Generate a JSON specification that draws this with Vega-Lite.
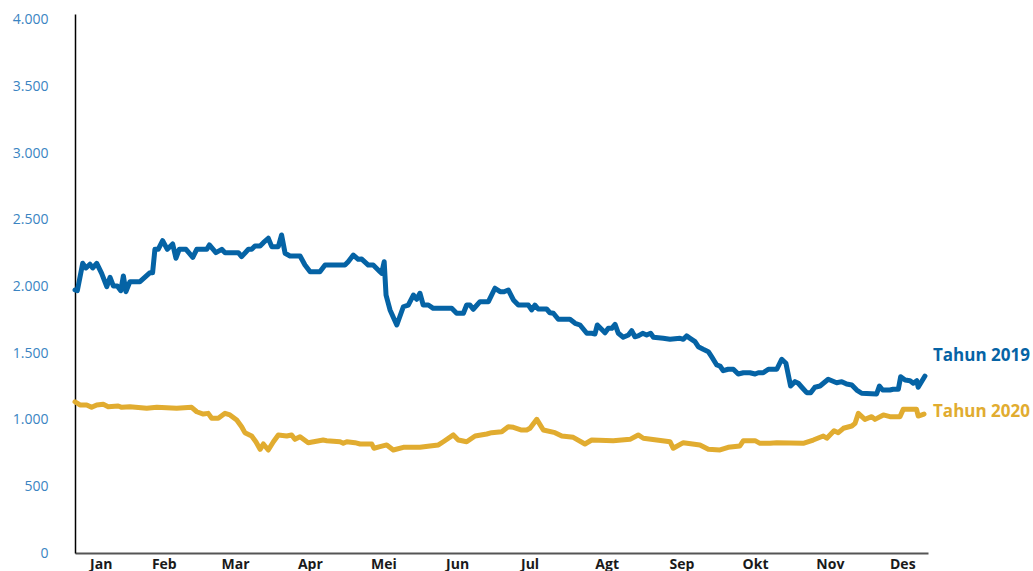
{
  "$schema": "https://vega.github.io/schema/vega-lite/v6.json",
  "width": 853,
  "height": 539,
  "autosize": "none",
  "padding": {"left": 75, "top": 14, "right": 105, "bottom": 18},
  "background": "white",
  "config": {"view": {"stroke": null}, "font": "Open Sans"},
  "data": {"values": [
    {"seri":"Tahun 2019","hari":0,"nilai":1974},
    {"seri":"Tahun 2019","hari":1,"nilai":1969},
    {"seri":"Tahun 2019","hari":3.3,"nilai":2174},
    {"seri":"Tahun 2019","hari":4.7,"nilai":2139},
    {"seri":"Tahun 2019","hari":6.4,"nilai":2167},
    {"seri":"Tahun 2019","hari":7.6,"nilai":2139},
    {"seri":"Tahun 2019","hari":9.3,"nilai":2174},
    {"seri":"Tahun 2019","hari":11.4,"nilai":2099},
    {"seri":"Tahun 2019","hari":13.6,"nilai":1999},
    {"seri":"Tahun 2019","hari":15,"nilai":2069},
    {"seri":"Tahun 2019","hari":16.4,"nilai":2004},
    {"seri":"Tahun 2019","hari":18.1,"nilai":2004},
    {"seri":"Tahun 2019","hari":19.6,"nilai":1969},
    {"seri":"Tahun 2019","hari":20.7,"nilai":2079},
    {"seri":"Tahun 2019","hari":21.8,"nilai":1961},
    {"seri":"Tahun 2019","hari":23.5,"nilai":2036},
    {"seri":"Tahun 2019","hari":27.8,"nilai":2036},
    {"seri":"Tahun 2019","hari":32.1,"nilai":2104},
    {"seri":"Tahun 2019","hari":33.2,"nilai":2104},
    {"seri":"Tahun 2019","hari":34.2,"nilai":2279},
    {"seri":"Tahun 2019","hari":35.6,"nilai":2279},
    {"seri":"Tahun 2019","hari":37.5,"nilai":2344},
    {"seri":"Tahun 2019","hari":39.5,"nilai":2279},
    {"seri":"Tahun 2019","hari":41.8,"nilai":2319},
    {"seri":"Tahun 2019","hari":43.2,"nilai":2212},
    {"seri":"Tahun 2019","hari":44.6,"nilai":2279},
    {"seri":"Tahun 2019","hari":47.5,"nilai":2279},
    {"seri":"Tahun 2019","hari":50.4,"nilai":2219},
    {"seri":"Tahun 2019","hari":52.1,"nilai":2279},
    {"seri":"Tahun 2019","hari":56.4,"nilai":2279},
    {"seri":"Tahun 2019","hari":57.5,"nilai":2312},
    {"seri":"Tahun 2019","hari":60.3,"nilai":2254},
    {"seri":"Tahun 2019","hari":62.8,"nilai":2279},
    {"seri":"Tahun 2019","hari":64.2,"nilai":2254},
    {"seri":"Tahun 2019","hari":69.9,"nilai":2254},
    {"seri":"Tahun 2019","hari":71.3,"nilai":2224},
    {"seri":"Tahun 2019","hari":74.2,"nilai":2279},
    {"seri":"Tahun 2019","hari":75.6,"nilai":2279},
    {"seri":"Tahun 2019","hari":77,"nilai":2304},
    {"seri":"Tahun 2019","hari":79.2,"nilai":2304},
    {"seri":"Tahun 2019","hari":80.6,"nilai":2329},
    {"seri":"Tahun 2019","hari":82.7,"nilai":2362},
    {"seri":"Tahun 2019","hari":84.2,"nilai":2299},
    {"seri":"Tahun 2019","hari":87,"nilai":2299},
    {"seri":"Tahun 2019","hari":88.4,"nilai":2387},
    {"seri":"Tahun 2019","hari":89.9,"nilai":2249},
    {"seri":"Tahun 2019","hari":92,"nilai":2229},
    {"seri":"Tahun 2019","hari":96.3,"nilai":2229},
    {"seri":"Tahun 2019","hari":98.4,"nilai":2161},
    {"seri":"Tahun 2019","hari":100.6,"nilai":2111},
    {"seri":"Tahun 2019","hari":104.8,"nilai":2111},
    {"seri":"Tahun 2019","hari":107,"nilai":2161},
    {"seri":"Tahun 2019","hari":115.5,"nilai":2161},
    {"seri":"Tahun 2019","hari":116.9,"nilai":2186},
    {"seri":"Tahun 2019","hari":119.1,"nilai":2236},
    {"seri":"Tahun 2019","hari":121.2,"nilai":2204},
    {"seri":"Tahun 2019","hari":122.7,"nilai":2206},
    {"seri":"Tahun 2019","hari":125.5,"nilai":2161},
    {"seri":"Tahun 2019","hari":127.6,"nilai":2161},
    {"seri":"Tahun 2019","hari":130.5,"nilai":2111},
    {"seri":"Tahun 2019","hari":131.2,"nilai":2099},
    {"seri":"Tahun 2019","hari":132.3,"nilai":2186},
    {"seri":"Tahun 2019","hari":133.1,"nilai":1936},
    {"seri":"Tahun 2019","hari":134.8,"nilai":1824},
    {"seri":"Tahun 2019","hari":137.7,"nilai":1711},
    {"seri":"Tahun 2019","hari":140.5,"nilai":1848},
    {"seri":"Tahun 2019","hari":142.6,"nilai":1861},
    {"seri":"Tahun 2019","hari":144.8,"nilai":1936},
    {"seri":"Tahun 2019","hari":146.2,"nilai":1904},
    {"seri":"Tahun 2019","hari":147.6,"nilai":1949},
    {"seri":"Tahun 2019","hari":149,"nilai":1861},
    {"seri":"Tahun 2019","hari":151.2,"nilai":1861},
    {"seri":"Tahun 2019","hari":153.3,"nilai":1836},
    {"seri":"Tahun 2019","hari":161.2,"nilai":1836},
    {"seri":"Tahun 2019","hari":163.3,"nilai":1799},
    {"seri":"Tahun 2019","hari":166.2,"nilai":1799},
    {"seri":"Tahun 2019","hari":167.6,"nilai":1861},
    {"seri":"Tahun 2019","hari":169,"nilai":1861},
    {"seri":"Tahun 2019","hari":170.4,"nilai":1829},
    {"seri":"Tahun 2019","hari":173.3,"nilai":1886},
    {"seri":"Tahun 2019","hari":176.9,"nilai":1886},
    {"seri":"Tahun 2019","hari":179.7,"nilai":1987},
    {"seri":"Tahun 2019","hari":181.9,"nilai":1961},
    {"seri":"Tahun 2019","hari":183.6,"nilai":1961},
    {"seri":"Tahun 2019","hari":185.4,"nilai":1974},
    {"seri":"Tahun 2019","hari":187.6,"nilai":1899},
    {"seri":"Tahun 2019","hari":189.7,"nilai":1861},
    {"seri":"Tahun 2019","hari":194,"nilai":1861},
    {"seri":"Tahun 2019","hari":195.4,"nilai":1824},
    {"seri":"Tahun 2019","hari":196.8,"nilai":1861},
    {"seri":"Tahun 2019","hari":198.2,"nilai":1831},
    {"seri":"Tahun 2019","hari":201.8,"nilai":1831},
    {"seri":"Tahun 2019","hari":203.2,"nilai":1803},
    {"seri":"Tahun 2019","hari":204.7,"nilai":1799},
    {"seri":"Tahun 2019","hari":206.8,"nilai":1754},
    {"seri":"Tahun 2019","hari":211.8,"nilai":1754},
    {"seri":"Tahun 2019","hari":214,"nilai":1724},
    {"seri":"Tahun 2019","hari":216.1,"nilai":1711},
    {"seri":"Tahun 2019","hari":219,"nilai":1649},
    {"seri":"Tahun 2019","hari":221.1,"nilai":1649},
    {"seri":"Tahun 2019","hari":222.5,"nilai":1644},
    {"seri":"Tahun 2019","hari":223.5,"nilai":1711},
    {"seri":"Tahun 2019","hari":226.8,"nilai":1653},
    {"seri":"Tahun 2019","hari":228.2,"nilai":1686},
    {"seri":"Tahun 2019","hari":229.7,"nilai":1686},
    {"seri":"Tahun 2019","hari":231.1,"nilai":1716},
    {"seri":"Tahun 2019","hari":232.5,"nilai":1649},
    {"seri":"Tahun 2019","hari":234.6,"nilai":1619},
    {"seri":"Tahun 2019","hari":236.8,"nilai":1636},
    {"seri":"Tahun 2019","hari":238.2,"nilai":1668},
    {"seri":"Tahun 2019","hari":239.6,"nilai":1623},
    {"seri":"Tahun 2019","hari":241,"nilai":1629},
    {"seri":"Tahun 2019","hari":242.9,"nilai":1649},
    {"seri":"Tahun 2019","hari":244.6,"nilai":1636},
    {"seri":"Tahun 2019","hari":246.3,"nilai":1649},
    {"seri":"Tahun 2019","hari":247.5,"nilai":1619},
    {"seri":"Tahun 2019","hari":251.7,"nilai":1611},
    {"seri":"Tahun 2019","hari":254.6,"nilai":1604},
    {"seri":"Tahun 2019","hari":258.9,"nilai":1611},
    {"seri":"Tahun 2019","hari":260.3,"nilai":1604},
    {"seri":"Tahun 2019","hari":261.7,"nilai":1629},
    {"seri":"Tahun 2019","hari":263.2,"nilai":1611},
    {"seri":"Tahun 2019","hari":265.3,"nilai":1586},
    {"seri":"Tahun 2019","hari":266.7,"nilai":1548},
    {"seri":"Tahun 2019","hari":268.8,"nilai":1529},
    {"seri":"Tahun 2019","hari":271,"nilai":1511},
    {"seri":"Tahun 2019","hari":272.4,"nilai":1473},
    {"seri":"Tahun 2019","hari":274.6,"nilai":1411},
    {"seri":"Tahun 2019","hari":276,"nilai":1403},
    {"seri":"Tahun 2019","hari":277.4,"nilai":1368},
    {"seri":"Tahun 2019","hari":279.5,"nilai":1379},
    {"seri":"Tahun 2019","hari":281.7,"nilai":1379},
    {"seri":"Tahun 2019","hari":283.8,"nilai":1343},
    {"seri":"Tahun 2019","hari":286,"nilai":1353},
    {"seri":"Tahun 2019","hari":288.8,"nilai":1353},
    {"seri":"Tahun 2019","hari":291,"nilai":1343},
    {"seri":"Tahun 2019","hari":292.4,"nilai":1353},
    {"seri":"Tahun 2019","hari":294.5,"nilai":1353},
    {"seri":"Tahun 2019","hari":296.7,"nilai":1379},
    {"seri":"Tahun 2019","hari":300.3,"nilai":1379},
    {"seri":"Tahun 2019","hari":302.4,"nilai":1454},
    {"seri":"Tahun 2019","hari":304.2,"nilai":1424},
    {"seri":"Tahun 2019","hari":306.2,"nilai":1253},
    {"seri":"Tahun 2019","hari":308.1,"nilai":1286},
    {"seri":"Tahun 2019","hari":309.5,"nilai":1274},
    {"seri":"Tahun 2019","hari":311,"nilai":1244},
    {"seri":"Tahun 2019","hari":313.1,"nilai":1203},
    {"seri":"Tahun 2019","hari":314.8,"nilai":1203},
    {"seri":"Tahun 2019","hari":316.6,"nilai":1244},
    {"seri":"Tahun 2019","hari":318.8,"nilai":1253},
    {"seri":"Tahun 2019","hari":322.3,"nilai":1304},
    {"seri":"Tahun 2019","hari":325.9,"nilai":1278},
    {"seri":"Tahun 2019","hari":328.1,"nilai":1286},
    {"seri":"Tahun 2019","hari":330.2,"nilai":1268},
    {"seri":"Tahun 2019","hari":332.4,"nilai":1261},
    {"seri":"Tahun 2019","hari":334.5,"nilai":1223},
    {"seri":"Tahun 2019","hari":336.6,"nilai":1199},
    {"seri":"Tahun 2019","hari":343,"nilai":1193},
    {"seri":"Tahun 2019","hari":344.2,"nilai":1253},
    {"seri":"Tahun 2019","hari":345.6,"nilai":1223},
    {"seri":"Tahun 2019","hari":348.7,"nilai":1223},
    {"seri":"Tahun 2019","hari":350.1,"nilai":1229},
    {"seri":"Tahun 2019","hari":352.3,"nilai":1229},
    {"seri":"Tahun 2019","hari":353.3,"nilai":1323},
    {"seri":"Tahun 2019","hari":355.2,"nilai":1298},
    {"seri":"Tahun 2019","hari":357.3,"nilai":1293},
    {"seri":"Tahun 2019","hari":358.7,"nilai":1274},
    {"seri":"Tahun 2019","hari":360.2,"nilai":1293},
    {"seri":"Tahun 2019","hari":360.8,"nilai":1244},
    {"seri":"Tahun 2019","hari":363.7,"nilai":1328},
    {"seri":"Tahun 2020","hari":0,"nilai":1135},
    {"seri":"Tahun 2020","hari":2.1,"nilai":1111},
    {"seri":"Tahun 2020","hari":5,"nilai":1111},
    {"seri":"Tahun 2020","hari":7.1,"nilai":1093},
    {"seri":"Tahun 2020","hari":9.3,"nilai":1111},
    {"seri":"Tahun 2020","hari":12.1,"nilai":1116},
    {"seri":"Tahun 2020","hari":14.2,"nilai":1098},
    {"seri":"Tahun 2020","hari":18.5,"nilai":1103},
    {"seri":"Tahun 2020","hari":20,"nilai":1093},
    {"seri":"Tahun 2020","hari":23.5,"nilai":1098},
    {"seri":"Tahun 2020","hari":30.7,"nilai":1086},
    {"seri":"Tahun 2020","hari":35,"nilai":1093},
    {"seri":"Tahun 2020","hari":43.5,"nilai":1086},
    {"seri":"Tahun 2020","hari":49.9,"nilai":1093},
    {"seri":"Tahun 2020","hari":52.1,"nilai":1060},
    {"seri":"Tahun 2020","hari":54.9,"nilai":1043},
    {"seri":"Tahun 2020","hari":57,"nilai":1048},
    {"seri":"Tahun 2020","hari":58.5,"nilai":1011},
    {"seri":"Tahun 2020","hari":61.3,"nilai":1011},
    {"seri":"Tahun 2020","hari":64.2,"nilai":1048},
    {"seri":"Tahun 2020","hari":66.3,"nilai":1036},
    {"seri":"Tahun 2020","hari":69.2,"nilai":998},
    {"seri":"Tahun 2020","hari":71.3,"nilai":948},
    {"seri":"Tahun 2020","hari":72.7,"nilai":903},
    {"seri":"Tahun 2020","hari":75.6,"nilai":878},
    {"seri":"Tahun 2020","hari":77.4,"nilai":835},
    {"seri":"Tahun 2020","hari":79.2,"nilai":778},
    {"seri":"Tahun 2020","hari":80.6,"nilai":818},
    {"seri":"Tahun 2020","hari":82.7,"nilai":773},
    {"seri":"Tahun 2020","hari":84.9,"nilai":835},
    {"seri":"Tahun 2020","hari":87,"nilai":886},
    {"seri":"Tahun 2020","hari":90.6,"nilai":878},
    {"seri":"Tahun 2020","hari":92.7,"nilai":886},
    {"seri":"Tahun 2020","hari":94.1,"nilai":853},
    {"seri":"Tahun 2020","hari":96.3,"nilai":873},
    {"seri":"Tahun 2020","hari":99.8,"nilai":828},
    {"seri":"Tahun 2020","hari":106.2,"nilai":848},
    {"seri":"Tahun 2020","hari":107.7,"nilai":843},
    {"seri":"Tahun 2020","hari":113.4,"nilai":835},
    {"seri":"Tahun 2020","hari":114.8,"nilai":823},
    {"seri":"Tahun 2020","hari":116.3,"nilai":835},
    {"seri":"Tahun 2020","hari":119.8,"nilai":828},
    {"seri":"Tahun 2020","hari":122,"nilai":818},
    {"seri":"Tahun 2020","hari":127,"nilai":818},
    {"seri":"Tahun 2020","hari":127.9,"nilai":786},
    {"seri":"Tahun 2020","hari":130.5,"nilai":798},
    {"seri":"Tahun 2020","hari":133.4,"nilai":811},
    {"seri":"Tahun 2020","hari":136.2,"nilai":773},
    {"seri":"Tahun 2020","hari":140.5,"nilai":793},
    {"seri":"Tahun 2020","hari":147.6,"nilai":793},
    {"seri":"Tahun 2020","hari":151.9,"nilai":803},
    {"seri":"Tahun 2020","hari":155.5,"nilai":811},
    {"seri":"Tahun 2020","hari":157.6,"nilai":835},
    {"seri":"Tahun 2020","hari":161.9,"nilai":886},
    {"seri":"Tahun 2020","hari":164,"nilai":848},
    {"seri":"Tahun 2020","hari":167.6,"nilai":835},
    {"seri":"Tahun 2020","hari":171.2,"nilai":878},
    {"seri":"Tahun 2020","hari":176.2,"nilai":893},
    {"seri":"Tahun 2020","hari":178.3,"nilai":903},
    {"seri":"Tahun 2020","hari":182.6,"nilai":910},
    {"seri":"Tahun 2020","hari":185.4,"nilai":948},
    {"seri":"Tahun 2020","hari":187.6,"nilai":943},
    {"seri":"Tahun 2020","hari":191.1,"nilai":923},
    {"seri":"Tahun 2020","hari":193.3,"nilai":923},
    {"seri":"Tahun 2020","hari":194.7,"nilai":936},
    {"seri":"Tahun 2020","hari":197.6,"nilai":1003},
    {"seri":"Tahun 2020","hari":200.4,"nilai":923},
    {"seri":"Tahun 2020","hari":205.4,"nilai":903},
    {"seri":"Tahun 2020","hari":208.3,"nilai":878},
    {"seri":"Tahun 2020","hari":213.2,"nilai":868},
    {"seri":"Tahun 2020","hari":218.2,"nilai":818},
    {"seri":"Tahun 2020","hari":221.1,"nilai":848},
    {"seri":"Tahun 2020","hari":230.3,"nilai":843},
    {"seri":"Tahun 2020","hari":237.5,"nilai":853},
    {"seri":"Tahun 2020","hari":241,"nilai":886},
    {"seri":"Tahun 2020","hari":243.2,"nilai":861},
    {"seri":"Tahun 2020","hari":254.6,"nilai":835},
    {"seri":"Tahun 2020","hari":256,"nilai":786},
    {"seri":"Tahun 2020","hari":260.3,"nilai":828},
    {"seri":"Tahun 2020","hari":267.4,"nilai":811},
    {"seri":"Tahun 2020","hari":271,"nilai":778},
    {"seri":"Tahun 2020","hari":276,"nilai":773},
    {"seri":"Tahun 2020","hari":279.5,"nilai":793},
    {"seri":"Tahun 2020","hari":284.5,"nilai":803},
    {"seri":"Tahun 2020","hari":286,"nilai":843},
    {"seri":"Tahun 2020","hari":291,"nilai":843},
    {"seri":"Tahun 2020","hari":293.1,"nilai":823},
    {"seri":"Tahun 2020","hari":297.4,"nilai":823},
    {"seri":"Tahun 2020","hari":300.3,"nilai":828},
    {"seri":"Tahun 2020","hari":311.6,"nilai":823},
    {"seri":"Tahun 2020","hari":315.9,"nilai":848},
    {"seri":"Tahun 2020","hari":320.2,"nilai":878},
    {"seri":"Tahun 2020","hari":321.7,"nilai":861},
    {"seri":"Tahun 2020","hari":324.8,"nilai":918},
    {"seri":"Tahun 2020","hari":326.6,"nilai":903},
    {"seri":"Tahun 2020","hari":328.8,"nilai":936},
    {"seri":"Tahun 2020","hari":332.4,"nilai":953},
    {"seri":"Tahun 2020","hari":333.8,"nilai":973},
    {"seri":"Tahun 2020","hari":335.2,"nilai":1048},
    {"seri":"Tahun 2020","hari":338,"nilai":1003},
    {"seri":"Tahun 2020","hari":340.9,"nilai":1023},
    {"seri":"Tahun 2020","hari":342.3,"nilai":1003},
    {"seri":"Tahun 2020","hari":345.9,"nilai":1036},
    {"seri":"Tahun 2020","hari":348.7,"nilai":1023},
    {"seri":"Tahun 2020","hari":353,"nilai":1023},
    {"seri":"Tahun 2020","hari":354.4,"nilai":1078},
    {"seri":"Tahun 2020","hari":360.1,"nilai":1078},
    {"seri":"Tahun 2020","hari":360.8,"nilai":1028},
    {"seri":"Tahun 2020","hari":363.3,"nilai":1043}
  ]},
  "encoding": {
    "x": {
      "field": "hari", "type": "quantitative",
      "scale": {"domain": [0, 365], "nice": false, "zero": false},
      "axis": {
        "title": null, "grid": false, "ticks": false,
        "domainColor": "#555555", "domainWidth": 2,
        "values": [11, 38, 68.5, 100.5, 132, 163.5, 194.5, 227.5, 259.5, 291, 323, 354],
        "labelExpr": "['Jan','Feb','Mar','Apr','Mei','Jun','Jul','Agt','Sep','Okt','Nov','Des'][indexof([11, 38, 68.5, 100.5, 132, 163.5, 194.5, 227.5, 259.5, 291, 323, 354], datum.value)]",
        "labelFont": "Open Sans", "labelFontSize": 14, "labelFontWeight": "bold",
        "labelColor": "#1a1a1a", "labelPadding": 4, "labelFlush": false, "labelOverlap": false
      }
    },
    "y": {
      "field": "nilai", "type": "quantitative",
      "scale": {"domain": [0, 4045], "nice": false},
      "axis": {
        "title": null, "grid": false, "ticks": false,
        "domainColor": "#000000", "domainWidth": 1.5,
        "values": [0, 500, 1000, 1500, 2000, 2500, 3000, 3500, 4000],
        "labelExpr": "replace(format(datum.value, ',d'), ',', '.')",
        "labelFont": "Open Sans", "labelFontSize": 14, "labelColor": "#3a84c2",
        "labelPadding": 27, "labelFlush": false
      }
    }
  },
  "layer": [
    {
      "mark": {"type": "line", "strokeWidth": 5, "strokeJoin": "round", "strokeCap": "round"},
      "encoding": {
        "color": {
          "field": "seri", "type": "nominal",
          "scale": {"domain": ["Tahun 2019", "Tahun 2020"], "range": ["#0563a5", "#e1ac30"]},
          "legend": null
        }
      }
    },
    {
      "transform": [
        {"filter": "datum.seri === 'Tahun 2019'"},
        {"aggregate": [{"op": "argmax", "field": "hari", "as": "akhir"}], "groupby": ["seri"]}
      ],
      "mark": {"type": "text", "align": "left", "baseline": "middle", "dx": 8, "dy": -20, "fontSize": 17, "fontWeight": "bold", "font": "Open Sans", "color": "#0563a5"},
      "encoding": {
        "x": {"field": "akhir.hari", "type": "quantitative"},
        "y": {"field": "akhir.nilai", "type": "quantitative"},
        "text": {"field": "seri"}
      }
    },
    {
      "transform": [
        {"filter": "datum.seri === 'Tahun 2020'"},
        {"aggregate": [{"op": "argmax", "field": "hari", "as": "akhir"}], "groupby": ["seri"]}
      ],
      "mark": {"type": "text", "align": "left", "baseline": "middle", "dx": 9, "dy": -2, "fontSize": 17, "fontWeight": "bold", "font": "Open Sans", "color": "#e1ac30"},
      "encoding": {
        "x": {"field": "akhir.hari", "type": "quantitative"},
        "y": {"field": "akhir.nilai", "type": "quantitative"},
        "text": {"field": "seri"}
      }
    }
  ]
}
